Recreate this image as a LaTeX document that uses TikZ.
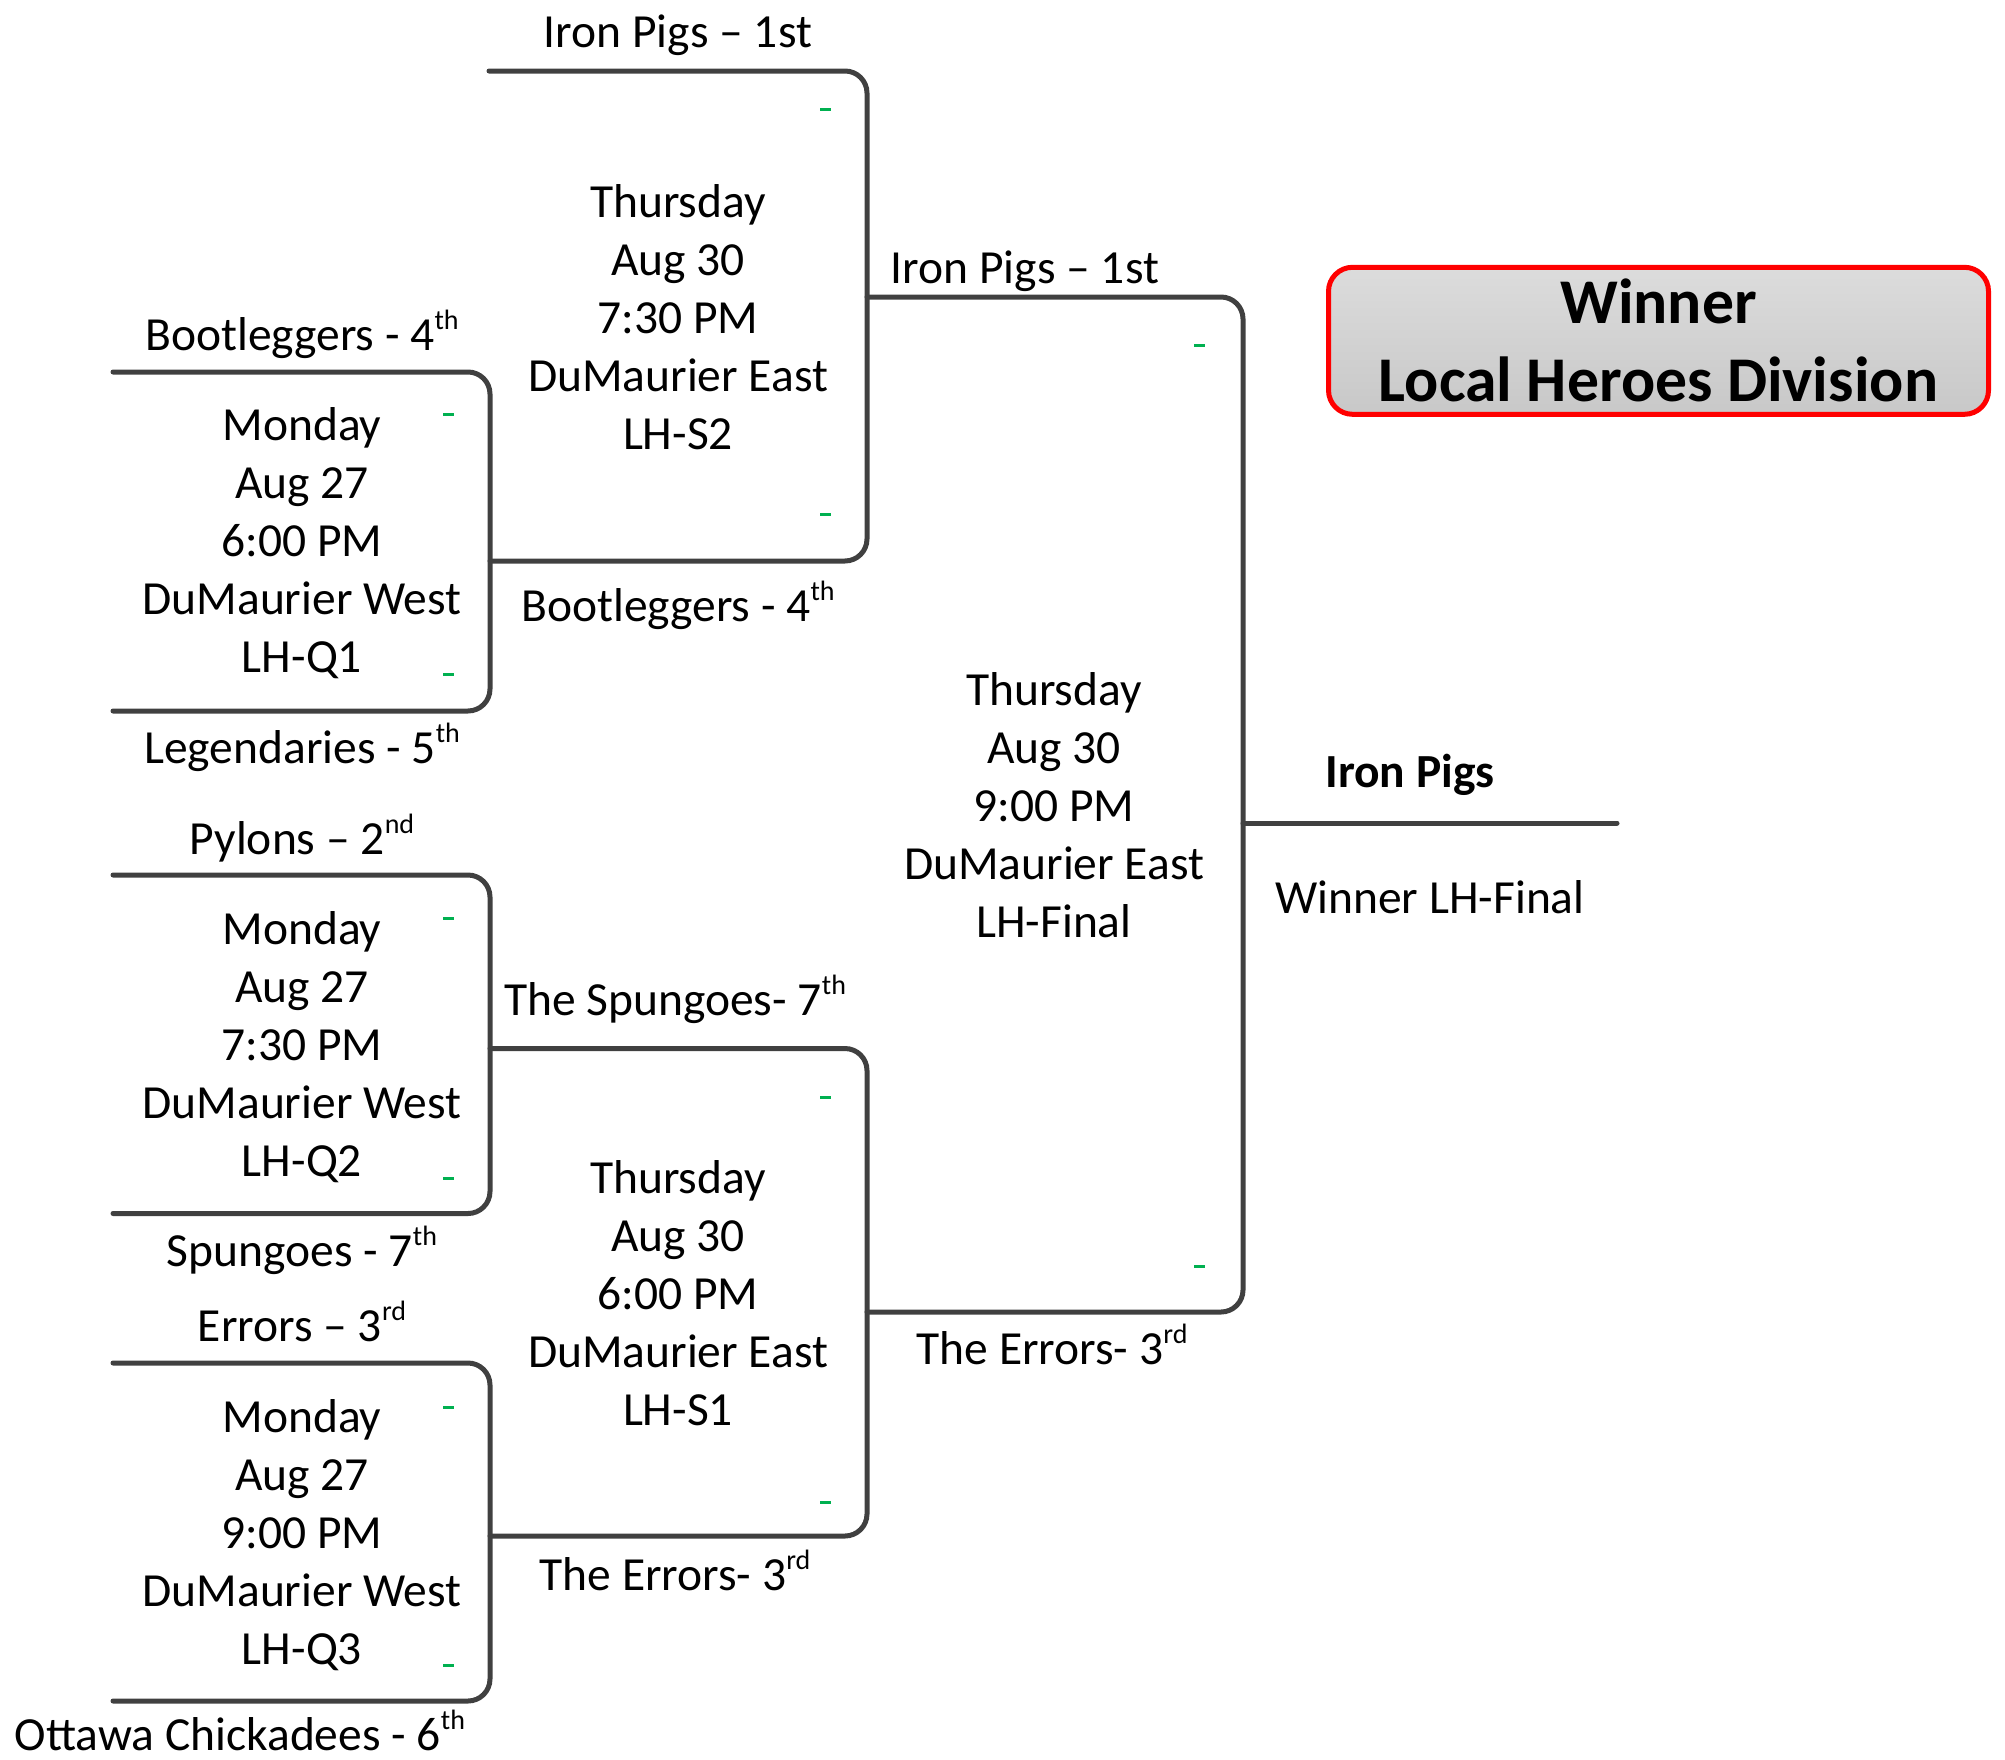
\documentclass[tikz,border=0pt]{standalone}
\usepackage{fontspec}
\setmainfont{Carlito}
\definecolor{linegray}{HTML}{404040}
\definecolor{dashgreen}{HTML}{00B050}
\definecolor{boxtop}{HTML}{DCDCDC}
\definecolor{boxbot}{HTML}{C8C8C8}
\newcommand{\mysup}[1]{\raisebox{21pt}{\fontsize{28}{28}\selectfont #1}}
\begin{document}
\begin{tikzpicture}[x=1pt,y=-1pt,
  bracket/.style={draw=linegray,line width=5pt,rounded corners=22pt,line cap=round},
  lbl/.style={inner sep=0pt,font=\fontsize{47.5}{58}\selectfont,align=center,anchor=base},
  game/.style={inner sep=0pt,font=\fontsize{47.5}{58}\selectfont,align=center,anchor=center},
  scoredash/.style={fill=dashgreen,draw=none,inner sep=0pt,minimum width=11pt,minimum height=3pt},
  winbox/.style={draw=red,line width=5pt,rounded corners=24pt,top color=boxtop,bottom color=boxbot,
    minimum width=660pt,minimum height=147pt,inner sep=0pt,align=center,
    font=\fontsize{63.7}{78}\selectfont\bfseries}
]
\useasboundingbox (0,0) rectangle (2005,1759);

% bracket coordinates
\coordinate (q1t) at (113,372);
\coordinate (q1m) at (490,561);
\coordinate (q1b) at (113,711);
\coordinate (q2t) at (113,875);
\coordinate (q2m) at (490,1048.5);
\coordinate (q2b) at (113,1213.5);
\coordinate (q3t) at (113,1363);
\coordinate (q3m) at (490,1536);
\coordinate (q3b) at (113,1701);
\coordinate (s2t) at (489,71);
\coordinate (s2m) at (867,297);
\coordinate (s1m) at (867,1312);
\coordinate (fm) at (1243,823);
\coordinate (win) at (1617,823);

% brackets
\draw[bracket] (q1t) -| (q1m) |- (q1b);
\draw[bracket] (q2t) -| (q2m) |- (q2b);
\draw[bracket] (q3t) -| (q3m) |- (q3b);
\draw[bracket] (s2t) -| (s2m) |- (q1m);
\draw[bracket] (q2m) -| (s1m) |- (q3m);
\draw[bracket] (s2m) -| (fm) |- (s1m);
\draw[bracket] (fm) -- (win);

% game blocks
\node[game] (gs2) at (678,317) {Thursday\\Aug 30\\7:30 PM\\DuMaurier East\\LH-S2};
\node[game] (gq1) at (302,543) {Monday\\Aug 27\\6:00 PM\\DuMaurier West\\LH-Q1};
\node[game] (gq2) at (302,1047) {Monday\\Aug 27\\7:30 PM\\DuMaurier West\\LH-Q2};
\node[game] (gs1) at (678,1293) {Thursday\\Aug 30\\6:00 PM\\DuMaurier East\\LH-S1};
\node[game] (gq3) at (302,1535) {Monday\\Aug 27\\9:00 PM\\DuMaurier West\\LH-Q3};
\node[game] (gf) at (1054,805) {Thursday\\Aug 30\\9:00 PM\\DuMaurier East\\LH-Final};

% team labels
\node[lbl] (t1) at (678,47) {Iron Pigs – 1st};
\node[lbl] (t2) at (1025,283) {Iron Pigs – 1st};
\node[lbl] (t3) at (302,350) {Bootleggers - 4\mysup{th}};
\node[lbl] (t4) at (678,621) {Bootleggers - 4\mysup{th}};
\node[lbl] (t5) at (302,763) {Legendaries - 5\mysup{th}};
\node[lbl] (t6) at (302,854) {Pylons – 2\mysup{nd}};
\node[lbl] (t7) at (675,1015) {The Spungoes- 7\mysup{th}};
\node[lbl] (t8) at (302,1266) {Spungoes - 7\mysup{th}};
\node[lbl] (t9) at (302,1341) {Errors – 3\mysup{rd}};
\node[lbl] (t10) at (675,1590) {The Errors- 3\mysup{rd}};
\node[lbl] (t11) at (240,1750) {Ottawa Chickadees - 6\mysup{th}};
\node[lbl] (t12) at (1052,1364) {The Errors- 3\mysup{rd}};
\node[lbl,font=\fontsize{47.5}{58}\selectfont\bfseries] (t13) at (1410,787) {Iron Pigs};
\node[lbl] (t14) at (1430,913) {Winner LH-Final};

% winner box
\node[winbox] (wb) at (1658.5,340.8) {Winner\\Local Heroes Division};

% green score dashes
\node[scoredash] (d1) at (825,109) {};
\node[scoredash] (d2) at (825,514) {};
\node[scoredash] (d3) at (448,414) {};
\node[scoredash] (d4) at (448,674) {};
\node[scoredash] (d5) at (1199,345) {};
\node[scoredash] (d6) at (1199,1266) {};
\node[scoredash] (d7) at (825,1097) {};
\node[scoredash] (d8) at (825,1502) {};
\node[scoredash] (d9) at (448,918) {};
\node[scoredash] (d10) at (448,1178) {};
\node[scoredash] (d11) at (448,1407) {};
\node[scoredash] (d12) at (448,1665) {};
\end{tikzpicture}
\end{document}
